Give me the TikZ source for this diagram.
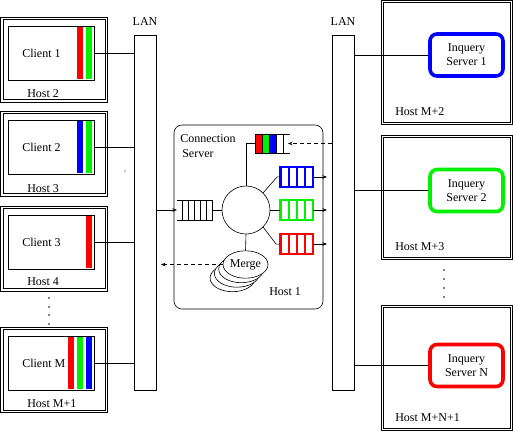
\documentclass[tikz,border=0pt]{standalone}
\usepackage{fontspec}
\setmainfont{Liberation Serif}
\usetikzlibrary{arrows.meta,shapes.geometric}
\definecolor{qred}{RGB}{255,0,0}
\definecolor{qgreen}{RGB}{0,240,0}
\definecolor{qblue}{RGB}{0,0,255}
\begin{document}
\begin{tikzpicture}[x=1pt,y=-1pt,
  font=\fontsize{12}{14}\selectfont, line width=0.6pt,
  hostbox/.style={draw, line width=0.7pt, inner sep=0pt, outer sep=0pt},
  cbox/.style={draw, line width=0.6pt, inner sep=0pt, outer sep=0pt, minimum width=86pt, minimum height=54pt},
  lanbox/.style={draw, line width=0.6pt, inner sep=0pt, outer sep=0pt, minimum width=22pt, minimum height=355pt},
  srv/.style={draw, line width=3.6pt, rounded corners=7pt, minimum width=73pt, minimum height=42pt, align=center, inner sep=0pt},
  lbl/.style={anchor=west, inner sep=0pt},
  qnode/.style={inner sep=0pt, outer sep=0pt, minimum width=#1, minimum height=20pt},
  tip/.style={-{Stealth[length=4.5pt,width=3.5pt]}},
  dsh/.style={dash pattern=on 4pt off 3pt}
]
\useasboundingbox (0,0) rectangle (513,432);

% ---------- client hosts ----------
\node[hostbox, minimum width=107pt, minimum height=84.5pt] (h2) at (54.3,59.6) {};
\node[hostbox, minimum width=107pt, minimum height=84.5pt] (h3) at (54.3,153.6) {};
\node[hostbox, minimum width=107pt, minimum height=84.5pt] (h4) at (54.3,248.6) {};
\node[hostbox, minimum width=107pt, minimum height=85.5pt] (hm1) at (54.3,370) {};

% ---------- server hosts ----------
\node[hostbox, minimum width=131pt, minimum height=124pt] (hs1) at (446.8,62.5) {};
\node[hostbox, minimum width=131pt, minimum height=124.5pt] (hs2) at (446.8,197.5) {};
\node[hostbox, minimum width=131pt, minimum height=125.5pt] (hsn) at (446.8,368) {};

\foreach \h in {h2,h3,h4,hm1,hs1,hs2,hsn}
  \draw[line width=0.7pt] ([shift={(2.2,2.2)}]\h.north west) rectangle ([shift={(-2.2,-2.2)}]\h.south east);

\node[cbox] (c1) at (51,53) {};
\node[cbox] (c2) at (51,147) {};
\node[cbox] (c3) at (51,242) {};
\node[cbox] (cm) at (51,363) {};

\fill[qred]   (77,27) rectangle (83,79);
\fill[qgreen] (86,27) rectangle (92,79);
\fill[qblue]  (77,121) rectangle (83,173);
\fill[qgreen] (86,121) rectangle (92,173);
\fill[qred]   (86,216) rectangle (92,268);
\fill[qred]   (68,337) rectangle (74,389);
\fill[qgreen] (77,337) rectangle (83,389);
\fill[qblue]  (86,337) rectangle (92,389);

\node[lbl] (c1t) at (22,53.5) {Client 1};
\node[lbl] (c2t) at (22,147.5) {Client 2};
\node[lbl] (c3t) at (22,242.5) {Client 3};
\node[lbl] (cmt) at (22,363.5) {Client M};

\node[lbl] (h2t) at (27,94) {Host 2};
\node[lbl] (h3t) at (27,189) {Host 3};
\node[lbl] (h4t) at (27,282) {Host 4};
\node[lbl] (hm1t) at (27,404) {Host M+1};

\foreach \yy in {298,307,315,324} \fill (49,\yy) circle (0.9);
\fill (125,171) circle (0.6);

% ---------- LANs ----------
\node[lanbox] (lan1) at (145,212.5) {};
\node[lanbox] (lan2) at (343,212.5) {};
\node (lan1t) at (145,22) {LAN};
\node (lan2t) at (343,22) {LAN};

\node[srv, draw=qblue]  (s1) at (466.5,55) {Inquery\\Server 1};
\node[srv, draw=qgreen] (s2) at (466.5,190.5) {Inquery\\Server 2};
\node[srv, draw=qred]   (sn) at (466.5,365.5) {Inquery\\Server N};

\node[lbl] (hs1t) at (395,112) {Host M+2};
\node[lbl] (hs2t) at (395,247) {Host M+3};
\node[lbl] (hsnt) at (395,418) {Host M+N+1};

\foreach \yy in {270,279,288,297} \fill (444,\yy) circle (0.9);

% ---------- connection server ----------
\node[draw, rounded corners=8pt, minimum width=149pt, minimum height=184pt, inner sep=0pt] (cs) at (248.5,217) {};
\node[lbl] (cst1) at (180,139) {Connection};
\node[lbl] (cst2) at (182,154) {Server};
\node[lbl] (cst3) at (269,292) {Host 1};

\node[draw, circle, minimum size=48pt, inner sep=0pt] (hub) at (246,210) {};

% left queue (open at left)
\node[qnode=35pt] (lq) at (194.5,210) {};
\draw (lq.north west) -- (lq.north east) -- (lq.south east) -- (lq.south west);
\foreach \xx in {182,188,194,200,206} \draw (\xx,200) -- (\xx,220);

% top queue (open at right)
\node[qnode=35pt, minimum height=19pt] (tq) at (272.5,143.5) {};
\fill[qred]   (255,134) rectangle (262,153);
\fill[qgreen] (262,134) rectangle (269,153);
\fill[qblue]  (269,134) rectangle (276,153);
\draw (tq.north east) -- (tq.north west) -- (tq.south west) -- (tq.south east);
\foreach \xx in {262,269,276,283} \draw (\xx,134) -- (\xx,153);

% colored output queues
\node[qnode=33pt] (bq) at (296.5,177) {};
\node[qnode=33pt] (gq) at (296.5,210) {};
\node[qnode=33pt] (rq) at (296.5,244) {};
\foreach \q/\c in {bq/qblue,gq/qgreen,rq/qred}{
  \draw[\c, line width=1.5pt] (\q.north west) rectangle (\q.south east);
  \draw[\c, line width=2.6pt] ([xshift=1pt]\q.north west) -- ([xshift=1pt]\q.south west);
  \foreach \dx in {9,17,25} \draw[\c, line width=1.5pt] ([xshift=\dx pt]\q.north west) -- ([xshift=\dx pt]\q.south west);
}

% merge stack
\foreach \i in {3,2,1} \draw[fill=white] (245.5-4.3*\i, 264.5+4.5*\i) ellipse (22.5 and 13.7);
\node[draw, fill=white, ellipse, minimum width=45pt, minimum height=27.4pt, inner sep=0pt] (merge) at (245.5,264.5) {Merge};

% ---------- connectors ----------
\draw (c1.east) -- (lan1.west |- c1.east);
\draw (c2.east) -- (lan1.west |- c2.east);
\draw (c3.east) -- (lan1.west |- c3.east);
\draw (cm.east) -- (lan1.west |- cm.east);

\draw (s1.west) -- (lan2.east |- s1.west);
\draw (s2.west) -- (lan2.east |- s2.west);
\draw (sn.west) -- (lan2.east |- sn.west);

\draw[tip] (lan1.east |- lq.west) -- (lq.west);
\draw (lq.east) -- (hub.west);
\draw (tq.west) -| (hub.north);
\draw (hub.45) -- ++(14,-16) -- (bq.west);
\draw (hub.east) -- (gq.west);
\draw (hub.-45) -- ++(13,17) -- (rq.west);
\draw (hub.south) -- (merge.north);

\draw[tip, shorten >=5pt] (bq.east) -- (lan2.west |- bq.east);
\draw[tip, shorten >=5pt] (gq.east) -- (lan2.west |- gq.east);
\draw[tip, shorten >=5pt] (rq.east) -- (lan2.west |- rq.east);

\draw[dsh, tip, shorten >=-2pt] (lan2.west |- tq.east) -- (tq.east);
\draw[dsh, tip, shorten >=5pt] (merge.west) -- (lan1.east |- merge.west);
\end{tikzpicture}
\end{document}
